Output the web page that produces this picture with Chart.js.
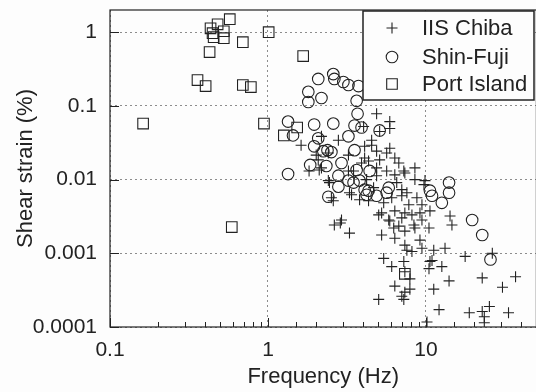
<!DOCTYPE html>
<html>
<head>
<meta charset="utf-8">
<script src="https://cdn.jsdelivr.net/npm/chart.js@4/dist/chart.umd.min.js"></script>
<style>
  html, body { margin: 0; padding: 0; background: #fdfdfd; overflow: hidden; }
  #wrap { width: 536px; height: 392px; overflow: hidden; }
</style>
</head>
<body>
<!-- canvas is a bit wider than the window: Chart.js keeps ~8px spare on the right -->
<div id="wrap"><canvas id="strainChart" width="545" height="392"></canvas></div>
<script>
// frequency (Hz) / shear strain (%)
const chibaFreq = [4.87, 5.90, 5.90, 4.03, 5.09, 2.18, 1.62, 2.79, 4.53, 4.09, 4.53, 4.87, 5.90, 2.02, 2.41, 3.23,
  4.09, 5.64, 6.35, 6.73, 5.09, 4.33, 1.82, 2.18, 3.48, 4.87, 5.64, 7.24, 8.51, 6.35, 4.87, 2.45, 4.21, 7.03, 8.51,
  9.71, 9.86, 7.35, 2.41, 2.08, 2.52, 3.38, 3.80, 3.23, 3.91, 4.33, 5.02, 5.40, 6.35, 7.03, 7.79, 8.15, 7.03, 6.25,
  5.81, 5.24, 6.35, 7.35, 8.51, 9.16, 9.43, 10.6, 9.43, 10.45, 9.16, 7.35, 8.15, 9.43, 11.2, 13.2, 14.2, 14.6, 5.40,
  7.24, 10.6, 12.6, 2.63, 2.92, 3.28, 6.07, 5.02, 6.35, 7.03, 7.91, 7.35, 7.91, 7.57, 10.45, 11.2, 14.0, 17.7, 12.1,
  18.8, 22.7, 23.4, 25.2, 23.4, 33.3, 22.7, 30.5, 36.9, 26.3, 6.73, 8.39, 7.35, 5.90, 5.24, 3.28, 2.59, 2.87, 7.35,
  7.24, 10.92, 10.15, 2.11, 6.53, 4.66, 7.57, 6.07, 8.76];
const chibaStrain = [0.0782, 0.0612, 0.0494, 0.0525, 0.0450, 0.0386, 0.0292, 0.0342, 0.0342, 0.0283, 0.0292, 0.0243,
  0.0266, 0.0215, 0.0229, 0.0215, 0.0196, 0.0229, 0.0196, 0.0168, 0.0185, 0.0179, 0.0131, 0.0144, 0.0131, 0.0144,
  0.0131, 0.0131, 0.0144, 0.0116, 0.0113, 0.0091, 0.0100, 0.0073, 0.0100, 0.00854, 0.00969, 0.0123, 0.00969, 0.0185,
  0.00567, 0.00623, 0.00532, 0.0131, 0.0168, 0.00516, 0.00332, 0.00484, 0.00376, 0.00604, 0.00455, 0.00332, 0.00302,
  0.0022, 0.00283, 0.00177, 0.0016, 0.0020, 0.0022, 0.00353, 0.00455, 0.00376, 0.00283, 0.0022, 0.00151, 0.00129,
  0.00106, 0.00117, 0.0011, 0.00117, 0.00321, 0.00242, 0.000852, 0.000774, 0.000774, 0.00066, 0.00242, 0.00283,
  0.00188, 0.00066, 0.000237, 0.000359, 0.000261, 0.000326, 0.000562, 0.00045, 0.0011, 0.000619, 0.000326, 0.000422,
  0.000908, 0.000172, 0.000156, 0.000162, 0.000138, 0.00019, 0.000114, 0.000156, 0.000464, 0.000347, 0.00048, 0.0010,
  0.00234, 0.00242, 0.00353, 0.00274, 0.00353, 0.00664, 0.00516, 0.00258, 0.000297, 0.000237, 0.0008, 0.000117,
  0.0135, 0.0091, 0.00777, 0.00664, 0.00567, 0.00567];

const fujiFreq = [2.08, 2.59, 2.63, 3.00, 3.23, 3.74, 1.80, 1.80, 2.18, 3.64, 3.69, 1.34, 1.96, 2.59, 3.53, 3.91,
  1.44, 5.09, 3.23, 2.08, 1.96, 2.24, 2.52, 2.38, 3.53, 1.85, 2.34, 2.92, 1.34, 2.79, 3.23, 3.48, 3.80, 4.40, 2.79,
  4.09, 4.21, 2.41, 4.87, 5.81, 5.64, 10.6, 10.92, 14.0, 14.0, 12.6, 19.6, 22.7, 25.6, 3.64, 4.33];
const fujiStrain = [0.232, 0.27, 0.232, 0.211, 0.192, 0.186, 0.155, 0.113, 0.128, 0.117, 0.0782, 0.0612, 0.0558,
  0.0575, 0.0541, 0.0509, 0.0398, 0.0464, 0.0386, 0.0363, 0.0283, 0.0243, 0.0236, 0.0251, 0.0251, 0.0158, 0.0153,
  0.0168, 0.0119, 0.0113, 0.00969, 0.0091, 0.00969, 0.0131, 0.00802, 0.0073, 0.00623, 0.00585, 0.00604, 0.00777,
  0.00664, 0.00707, 0.00604, 0.0091, 0.00664, 0.00484, 0.00283, 0.00177, 0.000825, 0.0135, 0.00707];

const portFreq = [0.573, 0.48, 0.433, 0.446, 0.453, 0.525, 0.525, 0.693, 0.427, 0.358, 0.403, 0.693, 0.779, 1.01,
  0.162, 0.943, 1.67, 1.53, 1.26, 0.59, 7.35];
const portStrain = [1.50, 1.28, 1.13, 0.97, 0.856, 1.03, 0.83, 0.733, 0.537, 0.224, 0.186, 0.192, 0.180, 1.0,
  0.0575, 0.0575, 0.474, 0.0509, 0.0398, 0.00227, 0.000527];

const seriesNames = ['IIS Chiba', 'Shin-Fuji', 'Port Island'];
const xTickValues = [0.1, 1, 10];
const yTickValues = [0.0001, 0.001, 0.01, 0.1, 1];

const ink = '#222';

function toPoints(xs, ys) {
  return xs.map((x, i) => ({ x: x, y: ys[i] }));
}

function isDecade(v) {
  const l = Math.log10(v);
  return Math.abs(l - Math.round(l)) < 1e-6;
}

function decadeLabel(v, list) {
  if (!isDecade(v)) return '';
  const hit = list.find(t => Math.abs(Math.log10(t) - Math.log10(v)) < 1e-6);
  return hit === undefined ? '' : String(hit);
}

function noPadding(scale) {
  scale.paddingLeft = 0;
  scale.paddingRight = 0;
  scale.paddingTop = 0;
  scale.paddingBottom = 0;
}

// frame, inward tick marks and boxed legend
const framePlugin = {
  id: 'framePlugin',
  beforeDatasetsDraw(chart) {
    const { ctx, chartArea: a, scales } = chart;
    ctx.save();
    ctx.strokeStyle = ink;
    ctx.lineWidth = 1.2;
    ctx.strokeRect(a.left, a.top, a.right - a.left, a.bottom - a.top);

    ctx.lineWidth = 1;
    ctx.beginPath();
    scales.x.ticks.forEach(t => {
      const px = Math.round(scales.x.getPixelForValue(t.value)) + 0.5;
      const len = isDecade(t.value) ? 9 : 5;
      ctx.moveTo(px, a.bottom);
      ctx.lineTo(px, a.bottom - len);
    });
    scales.y.ticks.forEach(t => {
      if (!isDecade(t.value)) return;
      const py = Math.round(scales.y.getPixelForValue(t.value)) + 0.5;
      ctx.moveTo(a.left, py);
      ctx.lineTo(a.left + 9, py);
    });
    ctx.stroke();
    ctx.restore();
  },
  afterDatasetsDraw(chart) {
    const { ctx } = chart;
    const box = { left: 363, top: 11, right: 534, bottom: 100 };
    ctx.save();
    ctx.fillStyle = '#fdfdfd';
    ctx.fillRect(box.left, box.top, box.right - box.left, box.bottom - box.top);
    ctx.strokeStyle = ink;
    ctx.lineWidth = 1.5;
    ctx.strokeRect(box.left, box.top, box.right - box.left, box.bottom - box.top);

    const rows = [28, 57, 84];
    chart.data.datasets.forEach((ds, i) => {
      ctx.strokeStyle = ink;
      ctx.fillStyle = 'rgba(0,0,0,0)';
      ctx.lineWidth = 1.1;
      Chart.helpers.drawPoint(ctx, {
        pointStyle: ds.pointStyle,
        radius: ds.pointRadius,
        rotation: 0,
        borderWidth: 1.1
      }, 392, rows[i]);
      ctx.fillStyle = ink;
      ctx.font = '22px "Liberation Sans", Arial, sans-serif';
      ctx.textAlign = 'left';
      ctx.textBaseline = 'middle';
      ctx.fillText(ds.label, 422, rows[i] + 1);
    });
    ctx.restore();
  }
};

const tickFont = { family: '"Liberation Sans", Arial, sans-serif', size: 21 };
const titleFont = { family: '"Liberation Sans", Arial, sans-serif', size: 22 };

const chart = new Chart(document.getElementById('strainChart').getContext('2d'), {
  type: 'scatter',
  data: {
    datasets: [
      {
        label: seriesNames[0],
        data: toPoints(chibaFreq, chibaStrain),
        pointStyle: 'cross',
        pointRadius: 5.5,
        borderColor: ink,
        backgroundColor: 'rgba(0,0,0,0)',
        borderWidth: 1.1
      },
      {
        label: seriesNames[1],
        data: toPoints(fujiFreq, fujiStrain),
        pointStyle: 'circle',
        pointRadius: 5.8,
        borderColor: ink,
        backgroundColor: 'rgba(0,0,0,0)',
        borderWidth: 1.1
      },
      {
        label: seriesNames[2],
        data: toPoints(portFreq, portStrain),
        pointStyle: 'rect',
        pointRadius: 7.5,
        borderColor: ink,
        backgroundColor: 'rgba(0,0,0,0)',
        borderWidth: 1.1
      }
    ]
  },
  options: {
    responsive: false,
    animation: false,
    events: [],
    layout: { padding: { top: 10, right: 2, left: 0, bottom: 0 } },
    plugins: {
      legend: { display: false },
      tooltip: { enabled: false }
    },
    scales: {
      x: {
        type: 'logarithmic',
        min: 0.1,
        max: 50,
        afterFit: scale => {
          scale.height = 65;
          noPadding(scale);
        },
        border: { display: false, dash: [2, 3] },
        grid: {
          drawTicks: false,
          color: c => (c.tick && isDecade(c.tick.value) ? '#8c8c8c' : 'rgba(0,0,0,0)'),
          lineWidth: 1
        },
        ticks: {
          autoSkip: false,
          maxRotation: 0,
          padding: 11,
          color: ink,
          font: tickFont,
          callback: v => decadeLabel(v, xTickValues)
        },
        title: {
          display: true,
          text: 'Frequency (Hz)',
          color: ink,
          font: titleFont,
          padding: { top: 0, bottom: 2 }
        }
      },
      y: {
        type: 'logarithmic',
        min: 0.0001,
        max: 2,
        afterFit: scale => {
          scale.width = 110;
          noPadding(scale);
        },
        border: { display: false, dash: [2, 3] },
        grid: {
          drawTicks: false,
          color: c => (c.tick && isDecade(c.tick.value) ? '#8c8c8c' : 'rgba(0,0,0,0)'),
          lineWidth: 1
        },
        ticks: {
          autoSkip: false,
          padding: 13,
          color: ink,
          font: tickFont,
          callback: v => decadeLabel(v, yTickValues)
        },
        title: {
          display: true,
          text: 'Shear strain (%)',
          color: ink,
          font: titleFont,
          padding: { top: 13, bottom: 0 }
        }
      }
    }
  },
  plugins: [framePlugin]
});
</script>
</body>
</html>
